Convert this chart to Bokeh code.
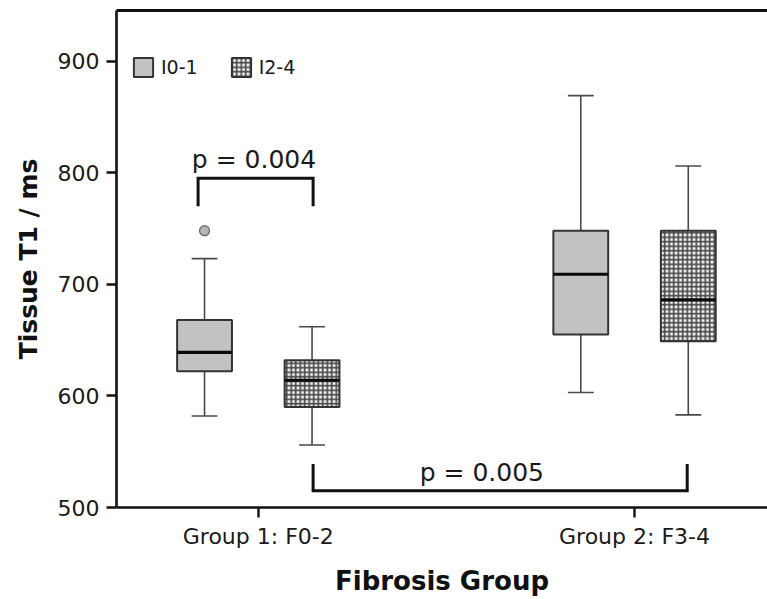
from bokeh.plotting import figure
from bokeh.models import (ColumnDataSource, FixedTicker, LinearAxis, Legend,
                          LegendItem, Range1d)
from bokeh.core.properties import value
from bokeh.embed import file_html
from bokeh.resources import INLINE

# ---- data -------------------------------------------------------------
group_labels = ["Group 1: F0-2", "Group 2: F3-4"]
group_ticks = [1.5, 5.0]
y_ticks = [500, 600, 700, 800, 900]

# I0-1 boxes (one per fibrosis group)
i01_pos = [1.0, 4.5]
i01_lower = [582, 603]
i01_q1 = [622, 655]
i01_median = [639, 709]
i01_q3 = [668, 748]
i01_upper = [723, 869]

# I2-4 boxes
i24_pos = [2.0, 5.5]
i24_lower = [556, 583]
i24_q1 = [590, 649]
i24_median = [614, 686]
i24_q3 = [632, 748]
i24_upper = [662, 806]

# outliers
outlier_x = [1.0]
outlier_y = [748]

# significance brackets
bracket_x0 = [0.94, 2.01]
bracket_x1 = [2.01, 5.49]
bracket_bar = [795, 515]
bracket_leg_end = [770, 539]
p_labels = ["p = 0.004", "p = 0.005"]
p_label_x = [1.46, 3.58]
p_label_y = [812, 531]

# ---- styling constants ---------------------------------------------------
BOX_W = 0.51
CAP_W = 0.24
FONT = "DejaVu Sans"
TXT = "#1a1a1a"

p = figure(width=767, height=599, output_backend="svg", toolbar_location=None,
           x_range=Range1d(0.181, 6.237), y_range=Range1d(500, 945.3),
           min_border_left=116, min_border_right=0, min_border_top=10,
           min_border_bottom=92)
p.outline_line_color = None
p.grid.visible = False
p.background_fill_color = "white"
p.border_fill_color = "white"


def box_sources(pos, lo, q1, med, q3, hi):
    half_box = BOX_W / 2
    half_cap = CAP_W / 2
    box = ColumnDataSource(dict(x=pos, bottom=q1, top=q3))
    whisk = ColumnDataSource(dict(
        x0=pos + pos, y0=lo + q3, x1=pos + pos, y1=q1 + hi))
    caps = ColumnDataSource(dict(
        x0=[x - half_cap for x in pos] * 2, x1=[x + half_cap for x in pos] * 2,
        y=lo + hi))
    meds = ColumnDataSource(dict(
        x0=[x - half_box for x in pos], x1=[x + half_box for x in pos], y=med))
    return box, whisk, caps, meds


renderers = []
for (pos, lo, q1, med, q3, hi, style) in [
        (i01_pos, i01_lower, i01_q1, i01_median, i01_q3, i01_upper,
         dict(fill_color="#c2c2c2")),
        (i24_pos, i24_lower, i24_q1, i24_median, i24_q3, i24_upper,
         dict(fill_color="#f2f2f2", hatch_pattern="cross",
              hatch_color="#454545", hatch_scale=4.5, hatch_weight=1.6))]:
    box, whisk, caps, meds = box_sources(pos, lo, q1, med, q3, hi)
    p.segment(x0="x0", y0="y0", x1="x1", y1="y1", source=whisk,
              line_color="#4a4a4a", line_width=1.6)
    p.segment(x0="x0", y0="y", x1="x1", y1="y", source=caps,
              line_color="#4a4a4a", line_width=1.6)
    r = p.vbar(x="x", width=BOX_W, bottom="bottom", top="top", source=box,
               line_color="#333333", line_width=2, **style)
    p.segment(x0="x0", y0="y", x1="x1", y1="y", source=meds,
              line_color="#0a0a0a", line_width=3.2)
    renderers.append(r)

p.scatter(outlier_x, outlier_y, size=10, fill_color="#b5b5b5",
          line_color="#666666", line_width=1.2)

# significance brackets
br = ColumnDataSource(dict(
    xs=[[a, a, b, b] for a, b in zip(bracket_x0, bracket_x1)],
    ys=[[e, m, m, e] for m, e in zip(bracket_bar, bracket_leg_end)]))
p.multi_line(xs="xs", ys="ys", source=br, line_color="#111111",
             line_width=3, line_join="miter")
p.text(x=p_label_x, y=p_label_y, text=p_labels, text_font=value(FONT),
       text_font_size="25px", text_align="center",
       text_baseline="alphabetic", text_color=TXT)

# legend
legend = Legend(items=[LegendItem(label="I0-1", renderers=[renderers[0]]),
                       LegendItem(label="I2-4", renderers=[renderers[1]])],
                orientation="horizontal", location=(15, 428),
                glyph_width=24, glyph_height=24, label_standoff=6,
                spacing=31, padding=0, margin=0,
                border_line_color=None, background_fill_alpha=0,
                label_text_font=FONT, label_text_font_size="19px",
                label_text_color=TXT)
p.add_layout(legend)

# axes
yax = p.yaxis[0]
yax.ticker = FixedTicker(ticks=y_ticks)
yax.axis_label = "Tissue T1 / ms"
xax = p.xaxis[0]
xax.ticker = FixedTicker(ticks=group_ticks)
xax.major_label_overrides = {t: l for t, l in zip(group_ticks, group_labels)}
xax.axis_label = "Fibrosis Group"
for ax in (xax, yax):
    ax.axis_line_color = "#111111"
    ax.axis_line_width = 2.6
    ax.major_tick_line_color = "#111111"
    ax.major_tick_line_width = 2.4
    ax.major_tick_out = 10
    ax.major_tick_in = 0
    ax.minor_tick_line_color = None
    ax.major_label_text_font = FONT
    ax.major_label_text_color = TXT
    ax.axis_label_text_font = FONT
    ax.axis_label_text_font_style = "bold"
    ax.axis_label_text_color = "#111111"
    ax.axis_label_text_font_size = "25px"
yax.major_label_text_font_size = "22px"
yax.major_label_standoff = 7
yax.axis_label_standoff = 12
xax.major_label_text_font_size = "22px"
xax.major_label_standoff = 6
xax.axis_label_text_font_size = "26px"
xax.axis_label_standoff = 14

top = LinearAxis(ticker=FixedTicker(ticks=[]), axis_line_width=3,
                 axis_line_color="#111111", major_tick_line_color=None,
                 minor_tick_line_color=None, major_label_text_font_size="0px")
p.add_layout(top, "above")

open("out.html", "w").write(file_html(p, INLINE))
